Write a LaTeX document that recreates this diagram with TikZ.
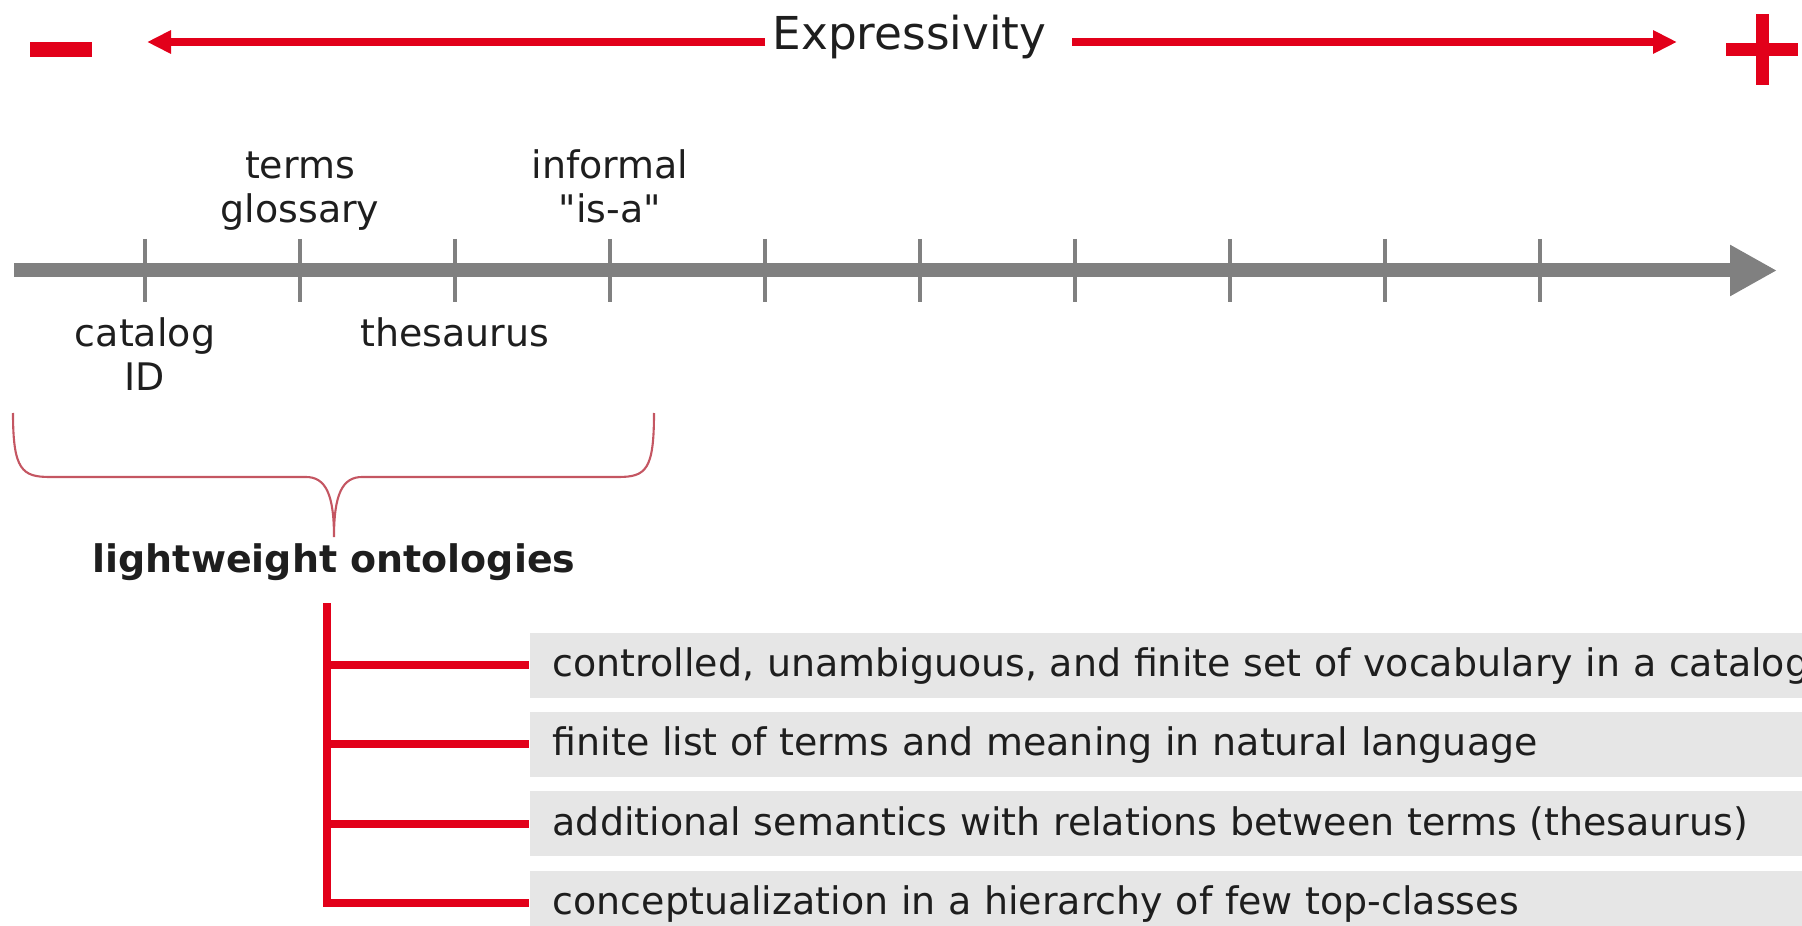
\documentclass[tikz,border=0pt]{standalone}
\usepackage{fontspec}
\setmainfont{DejaVu Sans}[Ligatures=TeXOff]
\usetikzlibrary{arrows.meta,positioning}
\definecolor{expred}{RGB}{226,0,26}
\definecolor{axgray}{RGB}{128,128,128}
\definecolor{boxgray}{RGB}{230,230,230}
\definecolor{bracered}{RGB}{196,86,98}
\definecolor{txt}{RGB}{30,30,30}
\newcommand\lblfont{\fontsize{10.8pt}{12.5pt}\selectfont}
\tikzset{
  lbl/.style={font=\lblfont, text=txt, align=center, inner sep=0pt},
  redarrow/.style={draw=expred, line width=0.8mm, -{Triangle[length=2.4mm,width=2.2mm]}},
  scaleaxis/.style={draw=axgray, line width=1.4mm, -{Triangle[length=4.7mm,width=4.8mm]}},
  tickmark/.style={draw=axgray, line width=0.45mm},
  treeline/.style={draw=expred, line width=0.8mm},
  itembox/.style={fill=boxgray, font=\lblfont, text=txt, anchor=west,
    text width=14cm, align=left, inner xsep=2.3mm, inner ysep=0pt,
    minimum height=6.5mm, text height=2.9mm, text depth=0.6mm},
}

\begin{document}
\begin{tikzpicture}[x=0.1mm, y=-0.1mm]
  \useasboundingbox (0,0) rectangle (1802,926);
  \clip (0,0) rectangle (1802,926);

  % expressivity
  \fill[expred] (30,42) rectangle (92,57);
  \fill[expred] (1726,43) rectangle (1798,56);
  \fill[expred] (1756,14) rectangle (1769,85);
  \node[font=\fontsize{12.9pt}{15pt}\selectfont, text=txt, inner sep=0pt, anchor=base west] (expr) at (772,50) {Expressivity};
  \coordinate (lhead) at (147,42);
  \coordinate (rhead) at (1677,42);
  \draw[redarrow, shorten <=0.7mm] (expr.west |- lhead) -- (lhead);
  \draw[redarrow, shorten <=2.5mm] (expr.east |- rhead) -- (rhead);

  % axis and ticks
  \coordinate (axstart) at (14,270.5);
  \coordinate (axend) at (1777,270.5);
  \draw[scaleaxis] (axstart) -- (axend);
  \foreach \i in {1,...,10}{
    \coordinate (t\i) at ({145+155*(\i-1)},270.5);
    \draw[tickmark] (t\i) ++(0,-31.5) -- ++(0,63);
  }
  \node[lbl, below=4.47mm of t1] (catalog) {catalog\strut\\ID\strut};
  \node[lbl, above=3.43mm of t2] (glossary) {terms\strut\\glossary\strut};
  \node[lbl, below=4.47mm of t3] (thesaurus) {thesaurus\strut};
  \node[lbl, above=3.43mm of t4] (isa) {informal\strut\\"is-a"\strut};

  % brace
  \coordinate (tip) at (334,537);
  \draw[bracered, line width=0.6pt] (13,413) .. controls (13,470) and (22,477) .. (50,477)
    -- (306,477) .. controls (326,477) and (334,495) .. (tip)
    .. controls (334,495) and (342,477) .. (362,477)
    -- (618,477) .. controls (646,477) and (654,470) .. (654,413);
  \node[font=\lblfont\bfseries, text=txt, inner sep=0pt, below=0.6mm of tip] (lw) {lightweight ontologies};

  % items
  \coordinate (trunk) at (327,603);
  \node[itembox] (b1) at (529,665) {controlled, unambiguous, and finite set of vocabulary in a catalog};
  \node[itembox, below=1.3mm of b1] (b2) {finite list of terms and meaning in natural language};
  \node[itembox, below=1.3mm of b2] (b3) {additional semantics with relations between terms (thesaurus)};
  \node[itembox, below=1.3mm of b3] (b4) {conceptualization in a hierarchy of few top-classes};
  \draw[treeline] (trunk) -- (trunk |- b4.west) -- (b4.west);
  \foreach \b in {b1,b2,b3}
    \draw[treeline] (trunk |- \b.west) -- (\b.west);
\end{tikzpicture}
\end{document}
